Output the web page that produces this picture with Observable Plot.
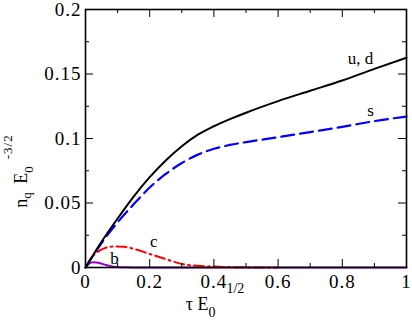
<!DOCTYPE html>
<html>
<head>
<meta charset="utf-8">
<script src="https://cdn.jsdelivr.net/npm/d3@7"></script>
<script src="https://cdn.jsdelivr.net/npm/@observablehq/plot@0.6"></script>
<style>
  html, body { margin: 0; padding: 0; background: #fff; }
</style>
</head>
<body>
<div id="chart"></div>
<script>
// ---- data ----
const udX = [0, 0.05, 0.1, 0.15, 0.2, 0.25, 0.3, 0.35, 0.4, 0.45, 0.5, 0.6, 0.7, 0.8, 0.9, 1.0];
const udY = [0, 0.020, 0.038, 0.055, 0.070, 0.083, 0.094, 0.103, 0.1095, 0.1150, 0.1200, 0.1290, 0.1370, 0.1450, 0.1540, 0.1626];

const sX = [0, 0.05, 0.1, 0.15, 0.2, 0.25, 0.3, 0.35, 0.4, 0.45, 0.5, 0.6, 0.7, 0.8, 0.9, 1.0];
const sY = [0, 0.019, 0.035, 0.049, 0.062, 0.0725, 0.0810, 0.0875, 0.0920, 0.0950, 0.0972, 0.1010, 0.1050, 0.1090, 0.1135, 0.117];

const cX = [0, 0.02, 0.04, 0.06, 0.09, 0.12, 0.15, 0.2, 0.25, 0.3, 0.35, 0.4, 0.45, 0.5, 0.6];
const cY = [0, 0.008, 0.0125, 0.015, 0.0163, 0.016, 0.0145, 0.0105, 0.0065, 0.0028, 0.0013, 0.0007, 0.0003, 0.0001, 0];

const bX = [0, 0.01, 0.025, 0.04, 0.06, 0.08, 0.1, 0.12, 0.15, 1.0];
const bY = [0, 0.0028, 0.0041, 0.0037, 0.0022, 0.0009, 0.0003, 0.0001, 0, 0];

const labelText = ["u, d", "s", "c", "b"];
const labelX = [0.857, 0.888, 0.213, 0.09];
const labelY = [0.158, 0.1178, 0.0157, 0.0031];

const xMajor = [0, 0.2, 0.4, 0.6, 0.8, 1];
const xMinor = [0.1, 0.3, 0.5, 0.7, 0.9];
const yMajor = [0, 0.05, 0.1, 0.15, 0.2];
const yMinor = [0.025, 0.075, 0.125, 0.175];
const xTickLabels = ["0", "0.2", "0.4", "0.6", "0.8", "1"];
const yTickLabels = ["0", "0.05", "0.1", "0.15", "0.2"];

// ---- build tables ----
const mk = (xs, ys) => xs.map((x, i) => ({x, y: ys[i]}));
const ud = mk(udX, udY), s = mk(sX, sY), c = mk(cX, cY), b = mk(bX, bY);
const labels = labelText.map((t, i) => ({t, x: labelX[i], y: labelY[i]}));

const W = 412, H = 327;
const mL = 85, mR = 6, mT = 9, mB = 60;
const fw = W - mL - mR, fh = H - mT - mB;
const big = 8, small = 4;
const font = "'Liberation Serif'";

const chart = Plot.plot({
  width: W, height: H,
  marginLeft: mL, marginRight: mR, marginTop: mT, marginBottom: mB,
  x: {domain: [0, 1]},
  y: {domain: [0, 0.2]},
  style: {background: "#fff", color: "#000"},
  marks: [
    Plot.line(b, {x: "x", y: "y", stroke: "#9400d3", strokeWidth: 2, curve: "monotone-x"}),
    Plot.line(c, {x: "x", y: "y", stroke: "#ff0000", strokeWidth: 2, strokeDasharray: "10,4,2,4", curve: "monotone-x"}),
    Plot.line(s, {x: "x", y: "y", stroke: "#0000ff", strokeWidth: 2.2, strokeDasharray: "13,6", curve: "monotone-x"}),
    Plot.line(ud, {x: "x", y: "y", stroke: "#000", strokeWidth: 2, curve: "monotone-x"}),
    // inward ticks on all sides
    Plot.ruleX(xMajor, {x: d => d, insetTop: fh - big, stroke: "#000"}),
    Plot.ruleX(xMinor, {x: d => d, insetTop: fh - small, stroke: "#000"}),
    Plot.ruleX(xMajor, {x: d => d, insetBottom: fh - big, stroke: "#000"}),
    Plot.ruleX(xMinor, {x: d => d, insetBottom: fh - small, stroke: "#000"}),
    Plot.ruleY(yMajor, {y: d => d, insetRight: fw - big, stroke: "#000"}),
    Plot.ruleY(yMinor, {y: d => d, insetRight: fw - small, stroke: "#000"}),
    Plot.ruleY(yMajor, {y: d => d, insetLeft: fw - big, stroke: "#000"}),
    Plot.ruleY(yMinor, {y: d => d, insetLeft: fw - small, stroke: "#000"}),
    Plot.frame({stroke: "#000", strokeWidth: 1.6}),
    Plot.axisX({ticks: xMajor, tickSize: 0, tickPadding: 7, fontSize: 19, label: null,
      tickFormat: d => xTickLabels[xMajor.indexOf(d)]}),
    Plot.axisY({ticks: yMajor, tickSize: 0, tickPadding: 4, fontSize: 19, label: null,
      tickFormat: d => yTickLabels[yMajor.indexOf(d)]}),
    Plot.text(labels, {x: "x", y: "y", text: "t", fontSize: 17, lineAnchor: "bottom", textAnchor: "middle", fill: "#000"})
  ]
});

document.getElementById("chart").appendChild(chart);

const svg = d3.select(chart);

// x-axis title: τ E_0^{1/2}
const xt = svg.append("text")
  .attr("x", 215).attr("y", 310)
  .style("font-size", "18px").attr("fill", "#000");
xt.append("tspan").text("τ E");
xt.append("tspan").attr("dy", 7).style("font-size", "14px").text("0");
xt.append("tspan").attr("dy", -24).attr("dx", 11).style("font-size", "14px").text("1/2");

// y-axis title: n_q E_0^{-3/2}
const yt = svg.append("text")
  .attr("transform", "translate(27,171) rotate(-90)")
  .style("font-size", "18px").attr("fill", "#000");
yt.append("tspan").text("n");
yt.append("tspan").attr("dy", 4).style("font-size", "13px").text("q");
yt.append("tspan").attr("dy", -4).attr("dx", 4).text(" E");
yt.append("tspan").attr("dy", 6).style("font-size", "13px").text("0");
yt.append("tspan").attr("dy", -21).attr("dx", 7).style("font-size", "13px").style("letter-spacing", "1px").text("-3/2");

// serif font everywhere, inline
svg.selectAll("text").style("font-family", font);
svg.selectAll("[aria-label='x-axis tick label'] text, [aria-label='y-axis tick label'] text")
  .style("letter-spacing", "1px");
</script>
</body>
</html>
